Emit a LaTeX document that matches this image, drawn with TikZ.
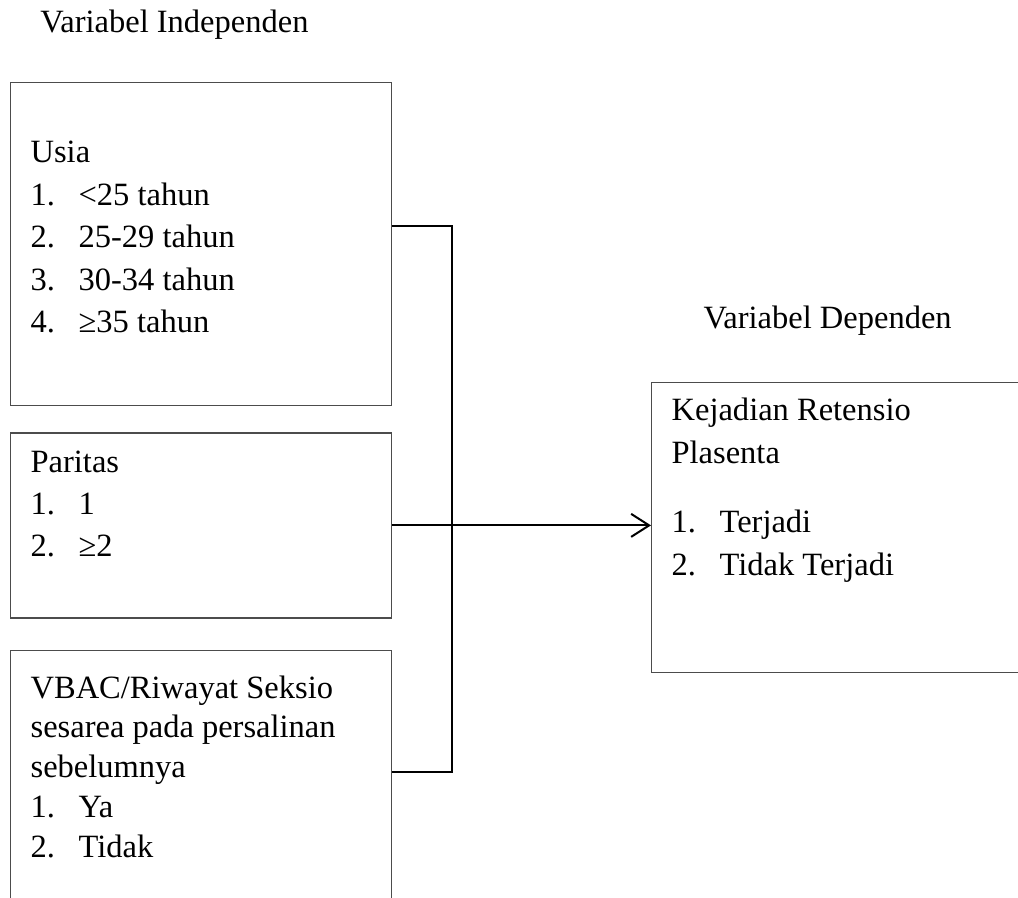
\documentclass[tikz,border=0pt]{standalone}
\usepackage{fontspec}
\setmainfont{Liberation Serif}
\usepackage{tikz}
\usetikzlibrary{arrows.meta, positioning}
\newcommand{\numitem}[2]{\makebox[19.2pt][l]{#1}#2}
\newcommand{\boxbody}[5]{\parbox[c][#1][t]{#2}{\setlength{\baselineskip}{#3}\rule{0pt}{#4}#5}}

\begin{document}
\begin{tikzpicture}[
    x=0.4pt, y=-0.4pt,
    font=\fontsize{13}{16.8}\selectfont,
    varbox/.style={draw=black!70, line width=0.5pt, inner xsep=8pt, inner ysep=0pt, align=left},
    title/.style={anchor=base west, inner sep=0pt},
    link/.style={line width=0.8pt, color=black},
    arrow/.style={link, -{Straight Barb[length=7.2pt, width=9.2pt]}}
]
\clip (0,0) rectangle (1018,898);

% Titles
\node[title] (tind) at (40,33) {Variabel Independen};
\node[title] (tdep) at (703,329) {Variabel Dependen};

% Left column - independent variables
\node[varbox, anchor=north west] (usia) at (10,82)
    {\boxbody{129.2pt}{136.4pt}{17pt}{32pt}{Usia\\
     \numitem{1.}{<25 tahun}\\
     \numitem{2.}{25-29 tahun}\\
     \numitem{3.}{30-34 tahun}\\
     \numitem{4.}{≥35 tahun}}};
\node[varbox, below=10.4pt of usia] (paritas)
    {\boxbody{74pt}{136.4pt}{16.8pt}{16pt}{Paritas\\
     \numitem{1.}{1}\\
     \numitem{2.}{≥2}}};
\node[varbox, below=12.4pt of paritas] (vbac)
    {\boxbody{120pt}{136.4pt}{15.9pt}{19.2pt}{VBAC/Riwayat Seksio\\
     sesarea pada persalinan\\
     sebelumnya\\
     \numitem{1.}{Ya}\\
     \numitem{2.}{Tidak}}};

% Right - dependent variable
\node[varbox, anchor=north west] (retensio) at (651,382)
    {\boxbody{116pt}{144pt}{17.2pt}{15.2pt}{Kejadian Retensio\\
     Plasenta\\[10.4pt]
     \numitem{1.}{Terjadi}\\
     \numitem{2.}{Tidak Terjadi}}};

% Connectors
\coordinate (jtop) at (452,226);
\coordinate (jbot) at (452,772);
\draw[link] (usia.east |- jtop) -- (jtop) -- (jbot) -- (vbac.east |- jbot);
\draw[arrow] (paritas.east) -- (paritas.east -| retensio.west);

\end{tikzpicture}
\end{document}
